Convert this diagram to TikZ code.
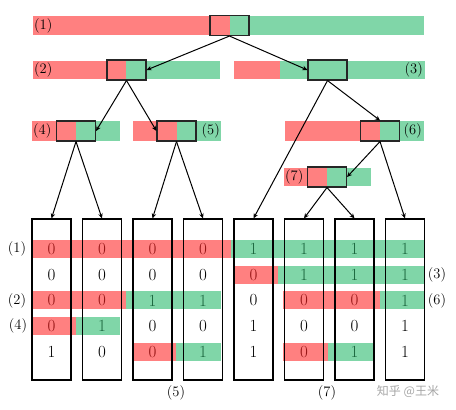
\documentclass[tikz,border=0pt]{standalone}
\usepackage{fontspec}
\newfontfamily\cjkfont{Noto Sans CJK SC}
\usepackage{xcolor}
\usetikzlibrary{arrows.meta,positioning}
\definecolor{barred}{RGB}{255,128,128}
\definecolor{bargreen}{RGB}{128,214,168}
\definecolor{digr}{RGB}{150,20,20}
\definecolor{digg}{RGB}{25,100,60}
\definecolor{digk}{RGB}{0,0,0}

\begin{document}
\begin{tikzpicture}[x=1pt,y=-1pt,
                    >={Stealth[length=5pt,width=4.5pt]},
                    pivot/.style={draw=black!85,line width=1.1pt,minimum width=39pt,
                                  minimum height=20pt,inner sep=0pt},
                    column/.style={draw,line width=1.2pt,minimum width=39pt,
                                   minimum height=161pt,inner sep=0pt},
                    lab/.style={font=\fontsize{14.5}{17}\selectfont,inner sep=0pt},
                    digit/.style={font=\fontsize{17}{20}\selectfont,inner sep=0pt},
                    edge/.style={->,line width=1pt}]
\useasboundingbox (0,0) rectangle (456,410);
% level 1
\fill[barred]   (33,16)  rectangle (230,35);
\fill[bargreen] (230,16) rectangle (424,35);
\node[pivot] (p1) at (229.5,25.5) {};
\node[lab,anchor=west] (l1) at (34,25.5) {(1)};
% level 2
\fill[barred]   (33,61)  rectangle (126,79);
\fill[bargreen] (126,61) rectangle (220,79);
\node[pivot] (p2) at (126.5,70) {};
\node[lab,anchor=west] (l2) at (34,70) {(2)};
\fill[barred]   (234,61) rectangle (280,79);
\fill[bargreen] (280,61) rectangle (425,79);
\node[pivot] (p3) at (327.5,70) {};
\node[lab,anchor=east] (l3) at (423,70) {(3)};
% level 3
\fill[barred]   (32,121) rectangle (76,141);
\fill[bargreen] (76,121) rectangle (120,141);
\node[pivot] (p4) at (76,131) {};
\node[lab,anchor=west] (l4) at (33,131) {(4)};
\fill[barred]   (133,121) rectangle (177,141);
\fill[bargreen] (177,121) rectangle (221,141);
\node[pivot] (p5) at (176.5,131) {};
\node[lab,anchor=east] (l5) at (220,131) {(5)};
\fill[barred]   (285,121) rectangle (380,141);
\fill[bargreen] (380,121) rectangle (424,141);
\node[pivot] (p6) at (380,131) {};
\node[lab,anchor=east] (l6) at (422,131) {(6)};
% level 4
\fill[barred]   (284,168) rectangle (327,186);
\fill[bargreen] (327,168) rectangle (371,186);
\node[pivot] (p7) at (327,177) {};
\node[lab,anchor=west] (l7) at (285,177) {(7)};
% row strips
\fill[barred]   (31,240)  rectangle (231,258);
\fill[bargreen] (231,240) rectangle (425,258);
\fill[barred]   (233,265.7) rectangle (278,283.7);
\fill[bargreen] (278,265.7) rectangle (425,283.7);
\fill[barred]   (31,291.4)  rectangle (126,309.4);
\fill[bargreen] (126,291.4) rectangle (221,309.4);
\fill[barred]   (283,291.4) rectangle (380,309.4);
\fill[bargreen] (380,291.4) rectangle (425,309.4);
\fill[barred]   (32,317.1) rectangle (76,335.1);
\fill[bargreen] (76,317.1) rectangle (120,335.1);
\fill[barred]   (132,342.8) rectangle (176,360.8);
\fill[bargreen] (176,342.8) rectangle (221,360.8);
\fill[barred]   (283,342.8) rectangle (328,360.8);
\fill[bargreen] (328,342.8) rectangle (373,360.8);
% columns
\foreach \i/\x/\cells in {
    1/51.5/{0/r,0/k,0/r,0/r,1/k},
    2/102/{0/r,0/k,0/r,1/g,0/k},
    3/152.5/{0/r,0/k,1/g,0/k,0/r},
    4/203/{0/r,0/k,1/g,0/k,1/g},
    5/253.5/{1/g,0/r,0/k,1/k,1/k},
    6/304/{1/g,1/g,0/r,0/k,0/r},
    7/354.5/{1/g,1/g,0/r,0/k,1/g},
    8/405/{1/g,1/g,1/g,1/k,1/k}}{
  \node[column] (c\i) at (\x,299.5) {};
  \foreach \v/\c [count=\r] in \cells
    \node[digit,text=dig\c] (d\i\r) at (\x,{249+25.7*(\r-1)}) {\v};
}
\node[lab] (r1) at (17,249)    {(1)};
\node[lab] (r2) at (17,300.4)  {(2)};
\node[lab] (r4) at (18,326.1)  {(4)};
\node[lab] (r3) at (437,275)   {(3)};
\node[lab] (r6) at (437,300.4) {(6)};
\node[lab] (r5) at (176,393)   {(5)};
\node[lab] (r7) at (327,393)   {(7)};
% links
\draw[edge] (p1.south) -- (p2.east);
\draw[edge] (p1.south) -- (p3.west);
\draw[edge] (p2.south) -- (p4.east);
\draw[edge] (p2.south) -- (p5.west);
\draw[edge] (p3.south) -- (c5.north);
\draw[edge] (p3.south) -- (p6.north);
\draw[edge] (p6.south) -- (p7.east);
\draw[edge] (p6.south) -- (c8.north);
\draw[edge] (p4.south) -- (c1.north);
\draw[edge] (p4.south) -- (c2.north);
\draw[edge] (p5.south) -- (c3.north);
\draw[edge] (p5.south) -- (c4.north);
\draw[edge] (p7.south) -- (c6.north);
\draw[edge] (p7.south) -- (c7.north);
\node[text=black!35,font=\cjkfont\fontsize{12}{14}\selectfont] (wm) at (408,391) {知乎 @王米};
\end{tikzpicture}
\end{document}
